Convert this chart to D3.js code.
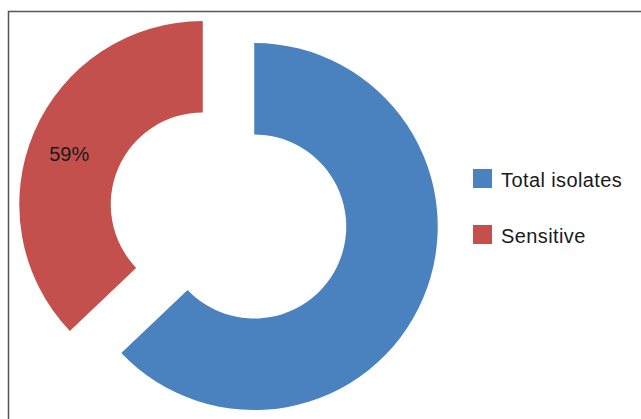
<!DOCTYPE html>
<html>
<head>
<meta charset="utf-8">
<script src="https://cdn.jsdelivr.net/npm/d3@7"></script>
<style>
  body { margin: 0; background: #fff; }
  text { font-family: "Liberation Sans", Arial, sans-serif; fill: #1a1a1a; }
</style>
</head>
<body>
<div id="chart"></div>
<script>
var categories = ["Total isolates", "Sensitive"];
var values = [100, 59];
var labels = ["", "59%"];
var colors = ["#4a81bf", "#c4504d"];

var width = 641, height = 419;
var cx = 228.5, cy = 215.5;
var outerR = 183.5, innerR = 92;
var explode = 28;

var svg = d3.select("#chart").append("svg")
  .attr("width", width)
  .attr("height", height);

// frame (top and left edges visible)
svg.append("path")
  .attr("d", "M8.5,419 L8.5,11.5 L641,11.5")
  .attr("fill", "none")
  .attr("stroke", "#555")
  .attr("stroke-width", 1.5);

var data = categories.map(function(c, i) { return {name: c, value: values[i], label: labels[i], color: colors[i]}; });

var pie = d3.pie().sort(null).value(function(d) { return d.value; });
var arc = d3.arc().innerRadius(innerR).outerRadius(outerR);

var slices = svg.append("g")
  .attr("transform", "translate(" + cx + "," + cy + ")")
  .selectAll("g")
  .data(pie(data)).enter()
  .append("g")
  .attr("transform", function(d) {
    var a = (d.startAngle + d.endAngle) / 2;
    return "translate(" + (explode * Math.sin(a)) + "," + (-explode * Math.cos(a)) + ")";
  });

slices.append("path")
  .attr("d", arc)
  .attr("fill", function(d) { return d.data.color; });

slices.append("text")
  .attr("transform", function(d) {
    var c = arc.centroid(d);
    return "translate(" + (c[0] - 7) + "," + (c[1] + 4) + ")";
  })
  .attr("text-anchor", "middle")
  .attr("dy", "0.35em")
  .attr("font-size", 20)
  .text(function(d) { return d.data.label; });

// legend
var legend = svg.append("g")
  .selectAll("g")
  .data(data).enter()
  .append("g")
  .attr("transform", function(d, i) { return "translate(473," + (169 + i * 56) + ")"; });

legend.append("rect")
  .attr("width", 19)
  .attr("height", 19)
  .attr("fill", function(d) { return d.color; });

legend.append("text")
  .attr("x", 28)
  .attr("y", 18)
  .attr("font-size", 20)
  .attr("letter-spacing", 0.4)
  .text(function(d) { return d.name; });
</script>
</body>
</html>
